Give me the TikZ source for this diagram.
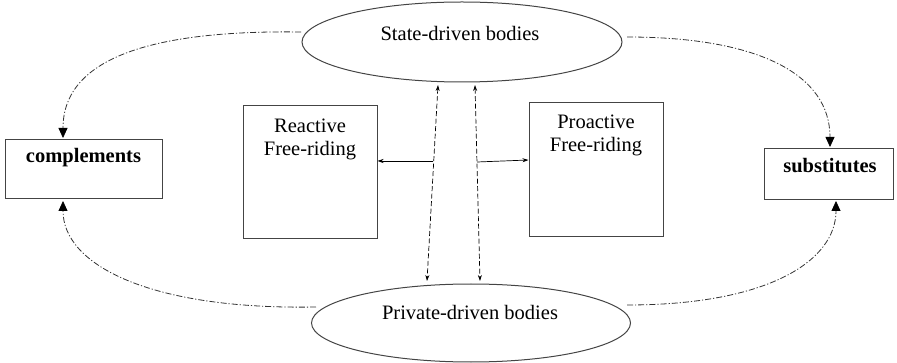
\documentclass[tikz,border=0pt]{standalone}
\usepackage{fontspec}
\setmainfont{Liberation Serif}
\usetikzlibrary{shapes.geometric,arrows.meta}
\definecolor{ln}{HTML}{444444}
\definecolor{dl}{HTML}{333333}
\tikzset{
  every node/.style={font=\fontsize{20.5}{24}\selectfont},
  oval/.style={draw=ln, line width=1pt, ellipse, inner sep=0pt},
  boxn/.style={draw=ln, line width=1pt, rectangle, inner sep=0pt},
  lbl/.style={draw=none, inner sep=0pt, align=center},
  small/.style={draw=black, line width=0.7pt, -{Stealth[length=6pt,width=4pt]}},
  vdash/.style={draw=black, line width=0.7pt, dash pattern=on 5pt off 2.5pt, {Stealth[length=6pt,width=4pt]}-{Stealth[length=6pt,width=4pt]}},
  dd/.style={draw=dl, line width=0.8pt, dash pattern=on 6pt off 2pt on 1.2pt off 2pt, -{Triangle[length=10pt,width=9pt,fill=black,color=black]}}
}
\begin{document}
\begin{tikzpicture}[x=1pt,y=-1pt]
\useasboundingbox (0,0) rectangle (897,363);
% ellipses
\node[oval, minimum width=320pt, minimum height=80pt] (top) at (462,42) {};
\node[lbl] (toplbl) at (460,33) {State-driven bodies};
\node[oval, minimum width=319pt, minimum height=78pt] (bot) at (471,323) {};
\node[lbl] (botlbl) at (470,312) {Private-driven bodies};
% side boxes
\node[boxn, minimum width=157pt, minimum height=59pt] (comp) at (83.5,169.5) {};
\node[lbl] (complbl) at (83.5,158) {\bfseries complements};
\node[boxn, minimum width=129pt, minimum height=51pt] (subs) at (828.5,174.5) {};
\node[lbl] (subslbl) at (830,166) {\bfseries substitutes};
% middle boxes
\node[boxn, minimum width=134pt, minimum height=133pt] (react) at (310,172.5) {};
\node[lbl] (reactlbl) at (310,139) {Reactive\\[-1pt]Free-riding};
\node[boxn, minimum width=134pt, minimum height=134pt] (proact) at (596,170) {};
\node[lbl] (proactlbl) at (596,135) {Proactive\\[-1pt]Free-riding};
% coordinates
\coordinate (ra) at (433,161);
\coordinate (pa) at (477,162);
\coordinate (v1t) at (438,85);
\coordinate (v1b) at (427,281);
\coordinate (v2t) at (475,85);
\coordinate (v2b) at (480,281);
\coordinate (tl) at (301,32);
\coordinate (tr) at (627,37);
\coordinate (bl) at (316,307);
\coordinate (br) at (627,305);
\coordinate (ca) at (63,138);
\coordinate (cb) at (63,201);
\coordinate (sa) at (830,147);
\coordinate (sb) at (836,201);
% arrows
\draw[small] (ra) -- (ra -| react.east);
\draw[small] (pa) -- (proact.west |- 0,160);
\draw[vdash] (v1t) -- (v1b);
\draw[vdash] (v2t) -- (v2b);
\draw[dd] (tl) .. controls (160,30) and (63,55) .. (ca);
\draw[dd] (tr) .. controls (760,37) and (830,75) .. (sa);
\draw[dd] (bl) .. controls (150,310) and (63,265) .. (cb);
\draw[dd] (br) .. controls (770,305) and (836,260) .. (sb);
\end{tikzpicture}
\end{document}
